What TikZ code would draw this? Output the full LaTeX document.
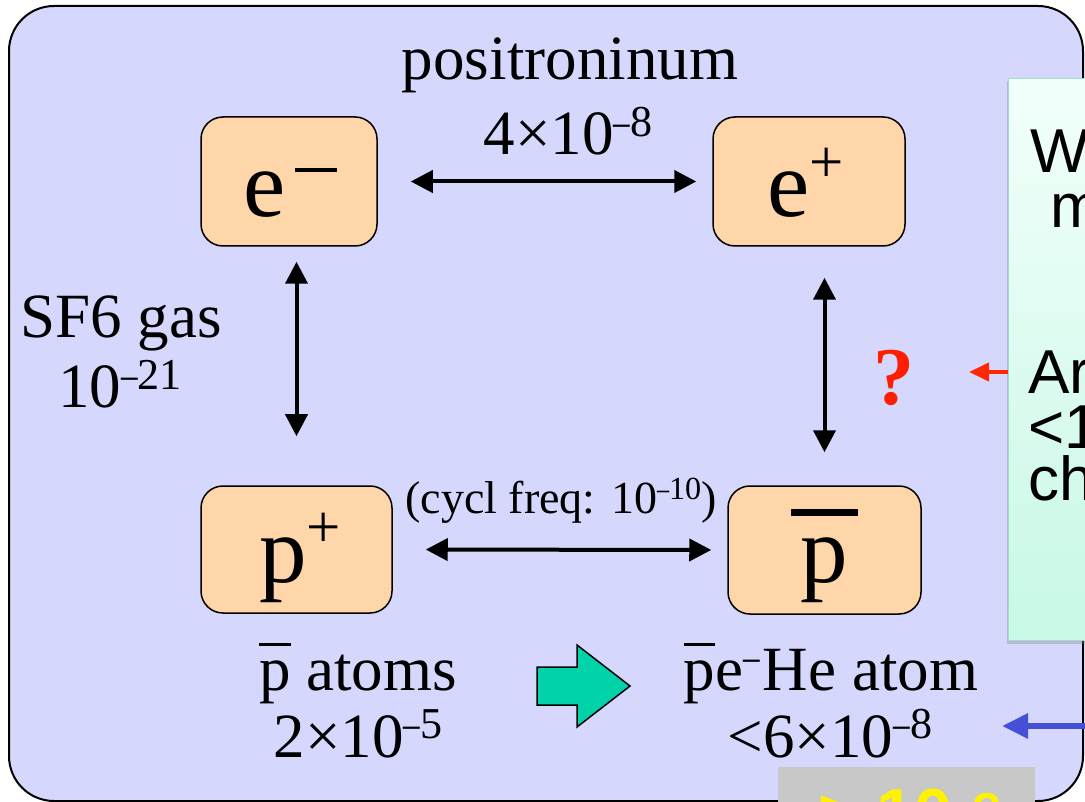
\documentclass[tikz,border=0pt]{standalone}
\usepackage{fontspec}
\setmainfont{Liberation Serif}
\newfontfamily\arialfont{Liberation Sans}
\usetikzlibrary{arrows.meta,shadows}
\definecolor{bgblue}{RGB}{213,215,253}
\definecolor{peach}{RGB}{255,214,170}
\definecolor{blockgreen}{RGB}{0,210,170}
\definecolor{mintTop}{RGB}{242,255,250}
\definecolor{mintBot}{RGB}{200,248,230}
\definecolor{mintEdge}{RGB}{160,220,200}
\definecolor{qred}{RGB}{255,30,0}
\definecolor{arrred}{RGB}{255,40,0}
\definecolor{arrblue}{RGB}{70,80,215}
\definecolor{greybox}{RGB}{200,200,200}
\newcommand\bigfs{\fontsize{95}{100}\selectfont}
\newcommand\midfs{\fontsize{63}{70}\selectfont}
\newcommand\smfs{\fontsize{46}{52}\selectfont}
\newcommand\sansfs{\arialfont\fontsize{62}{70}\selectfont}
\newcommand\supm[1]{\raisebox{0.3em}{\scalebox{0.7}{\scalebox{0.75}[1]{\textendash}#1}}}
\newcommand\supp{\raisebox{0.36em}{\scalebox{0.64}{+}}}
\newcommand\pbarsm{\ooalign{\hidewidth\rule[0.7em]{0.5em}{0.045em}\hidewidth\cr p}}
\newcommand\pbarbig{\ooalign{\hidewidth\rule[0.70em]{0.70em}{0.065em}\hidewidth\cr p}}
\tikzset{
  pbox/.style={draw, line width=1.5pt, fill=peach, rounded corners=22pt, inner sep=0pt},
  lbl/.style={anchor=base, inner sep=0pt, font=\midfs},
  gtxt/.style={anchor=base west, inner sep=0pt, font=\sansfs},
  dbl/.style={line width=4pt, {Triangle[length=22pt,width=22pt]}-{Triangle[length=22pt,width=22pt]}},
}
\begin{document}
\begin{tikzpicture}[x=1pt,y=-1pt]
\useasboundingbox (0,0) rectangle (1085,802);
\begin{scope}
\clip (0,0) rectangle (1085,802);
% outer panel
\draw[line width=2pt, fill=bgblue, rounded corners=45pt] (9,6) rectangle (1083,801);
% particle boxes
\node[pbox, minimum width=176pt, minimum height=129pt] (em) at (289,181.5) {};
\node[pbox, minimum width=192pt, minimum height=129pt] (ep) at (809,181.5) {};
\node[pbox, minimum width=191pt, minimum height=127pt] (pp) at (296.5,549.5) {};
\node[pbox, minimum width=193pt, minimum height=128pt] (pb) at (824.5,550) {};
% box texts
\node[anchor=base west, inner sep=0pt, font=\bigfs] (tem) at (243,217) {e\hspace{0.1em}\raisebox{0.47em}{\rule{0.44em}{0.05em}}};
\node[anchor=base, inner sep=0pt, font=\bigfs] (tep) at (806,217) {e\supp};
\node[anchor=base, inner sep=0pt, font=\bigfs] (tpp) at (300,582) {p\supp};
\node[anchor=base, inner sep=0pt, font=\bigfs] (tpb) at (824.5,582) {\pbarbig};
% connectors
\draw[dbl, shorten <=33pt, shorten >=16pt] (em.east) -- (ep.west);
\draw[dbl, shorten <=33pt, shorten >=16pt] (pp.east) -- (pb.west);
\draw[dbl, shorten <=15pt, shorten >=49pt] (em.south -| pp.center) -- (pp.north);
\draw[dbl, shorten <=31pt, shorten >=33pt] (ep.south -| pb.center) -- (pb.north);
% labels
\node[lbl] (l1) at (570,80) {positroninum};
\node[lbl] (l2) at (568,155) {4×10\supm{8}};
\node[lbl] (l3) at (121,338) {SF6 gas};
\node[lbl] (l4) at (120,408) {10\supm{21}};
\node[lbl, font=\smfs] (l5) at (561,513) {(cycl freq: 10\supm{10})};
\node[lbl, font=\bfseries\fontsize{82}{90}\selectfont, text=qred] (q) at (894,405) {?};
\node[lbl] (l6) at (358,690) {\pbarsm{} atoms};
\node[lbl] (l7) at (358,757) {2×10\supm{5}};
\node[lbl] (l8) at (831,690) {\pbarsm{}e\supm{}\hspace{0.05em}He atom};
\node[lbl] (l9) at (830,757) {<6×10\supm{8}};
% block arrow
\draw[line width=1.5pt, fill=blockgreen, line join=miter] (537,667) -- (577,667) -- (577,645) -- (630,686) -- (577,727) -- (577,705) -- (537,705) -- cycle;
% green info box
\node[draw=mintEdge, line width=1pt, top color=mintTop, bottom color=mintBot, drop shadow={shadow xshift=-2pt, shadow yshift=-3pt, opacity=0.35}, anchor=north west, minimum width=120pt, minimum height=562pt, inner sep=0pt] (gb) at (1008,78) {};
\node[gtxt] (g1) at (1030,173) {W};
\node[gtxt] (g2) at (1050,228) {m};
\node[gtxt] (g3) at (1028,394) {Ar};
\node[gtxt] (g4) at (1028,448) {<1};
\node[gtxt] (g5) at (1028,500) {ch};
% red arrow
\draw[line width=4pt, arrred, -{Triangle[length=20pt,width=18pt]}] (gb.west |- 0,372) -- (969,372);
% blue arrow
\coordinate (bstart) at (1100,726);
\draw[line width=6pt, arrblue, -{Triangle[length=26pt,width=24pt]}] (bstart) -- (1002,726);
% grey box
\node[fill=greybox, anchor=north west, minimum width=257pt, minimum height=60pt, inner sep=0pt] (gr) at (778,767) {};
\node[anchor=base west, inner sep=0pt, text=yellow, font=\arialfont\bfseries\fontsize{68}{72}\selectfont] (yt) at (818,836) {> 10\hspace{0.3em}\textsuperscript{?}};
\end{scope}
\end{tikzpicture}
\end{document}
